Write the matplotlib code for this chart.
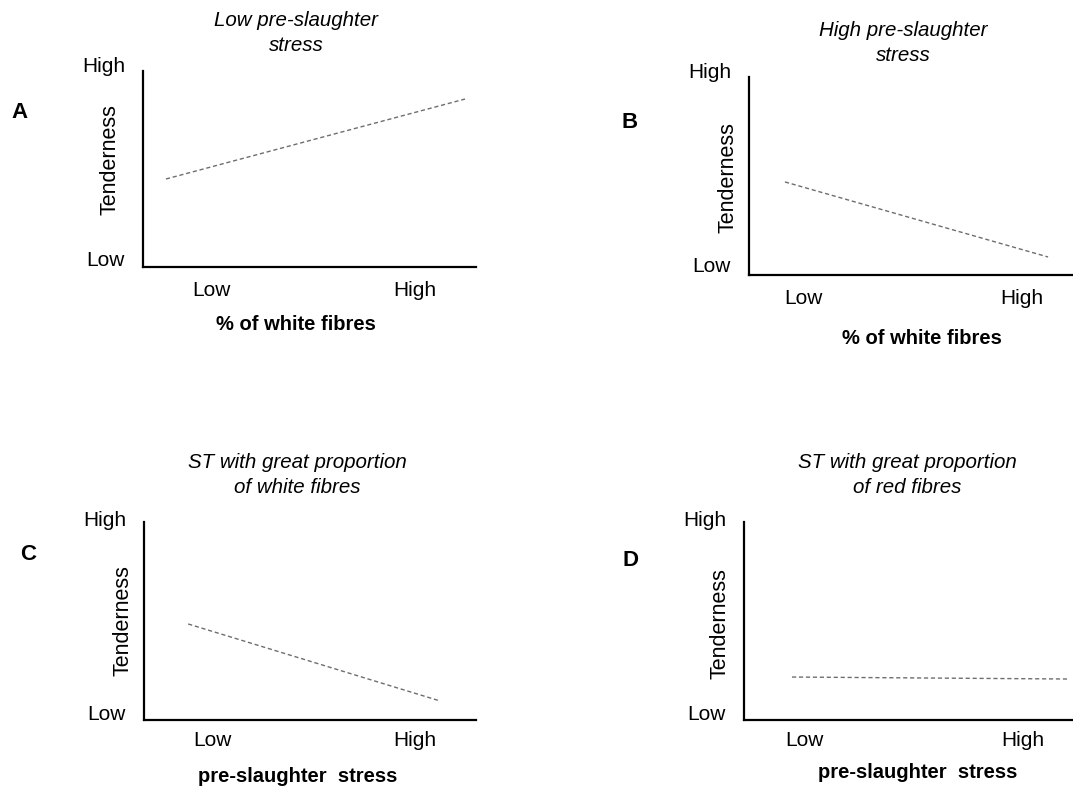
import matplotlib
matplotlib.use("Agg")
import matplotlib.pyplot as plt

plt.rcParams['font.family'] = ['Liberation Sans', 'DejaVu Sans']

W, H = 1073, 787

# panel data: line end points in axis units (0 = Low, 1 = High)
letters = ["A", "B", "C", "D"]
titles = ["Low pre-slaughter\nstress",
          "High pre-slaughter\nstress",
          "ST with great proportion\nof white fibres",
          "ST with great proportion\nof red fibres"]
xlabels = ["% of white fibres", "% of white fibres",
           "pre-slaughter  stress", "pre-slaughter  stress"]
ylabel = "Tenderness"
level_labels = ["Low", "High"]
line_x = [[0.069, 0.967], [0.111, 0.923], [0.133, 0.892], [0.146, 0.982]]
line_y = [[0.449, 0.857], [0.470, 0.091], [0.485, 0.096], [0.217, 0.207]]
xtick_pos = [[0.207, 0.817], [0.167, 0.843], [0.205, 0.816], [0.185, 0.848]]

# layout in pixels: (left, right, top, bottom) of the axes lines
boxes = [(143, 476, 71, 267), (749, 1073, 77, 275),
         (144, 476, 522, 720), (744, 1073, 522, 720)]
title_xy = [(296, 33), (903, 43), (297, 475), (907, 475)]
letter_xy = [(19, 113), (630, 123), (28, 555), (630, 560)]
ylab_xy = [(110, 160), (728, 178), (123, 621), (720, 624)]
xlab_xy = [(296, 325), (922, 338), (298, 777), (918, 773)]
ytick_dy = [(6, -4), (8, -4), (5, -2), (5, -2)]

fig = plt.figure(figsize=(W / 100, H / 100), dpi=100)


def fx(x):
    return x / W


def fy(y):
    return 1 - y / H


for i in range(4):
    l, r, t, b = boxes[i]
    ax = fig.add_axes([fx(l), fy(b), (r - l) / W, (b - t) / H])
    ax.set_xlim(0, 1)
    ax.set_ylim(0, 1)
    ax.plot(line_x[i], line_y[i], color="#6e6e6e", lw=1.0, ls=(0, (3, 2)))
    for s in ["top", "right"]:
        ax.spines[s].set_visible(False)
    for s in ["left", "bottom"]:
        ax.spines[s].set_linewidth(1.6)
    ax.set_xticks([])
    ax.set_yticks([])

    # x level labels
    xt_y = b + 24 if i < 2 else b + 21
    for xv, lab in zip(xtick_pos[i], level_labels):
        fig.text(fx(l + xv * (r - l)), fy(xt_y), lab, ha="center", va="center",
                 fontsize=15)
    # y level labels
    fig.text(fx(l - 18), fy(b - ytick_dy[i][0]), "Low", ha="right", va="center",
             fontsize=15)
    fig.text(fx(l - 18), fy(t + ytick_dy[i][1]), "High", ha="right", va="center",
             fontsize=15)

    fig.text(fx(ylab_xy[i][0]), fy(ylab_xy[i][1]), ylabel, rotation=90,
             ha="center", va="center", fontsize=15.5)
    fig.text(fx(xlab_xy[i][0]), fy(xlab_xy[i][1]), xlabels[i], ha="center",
             va="center", fontsize=14.5, fontweight="bold")
    fig.text(fx(title_xy[i][0]), fy(title_xy[i][1]), titles[i], ha="center",
             va="center", fontsize=14.8, style="italic", linespacing=1.4)
    fig.text(fx(letter_xy[i][0]), fy(letter_xy[i][1]), letters[i], ha="center",
             va="center", fontsize=16, fontweight="bold")

fig.savefig("out.png", dpi=100)
